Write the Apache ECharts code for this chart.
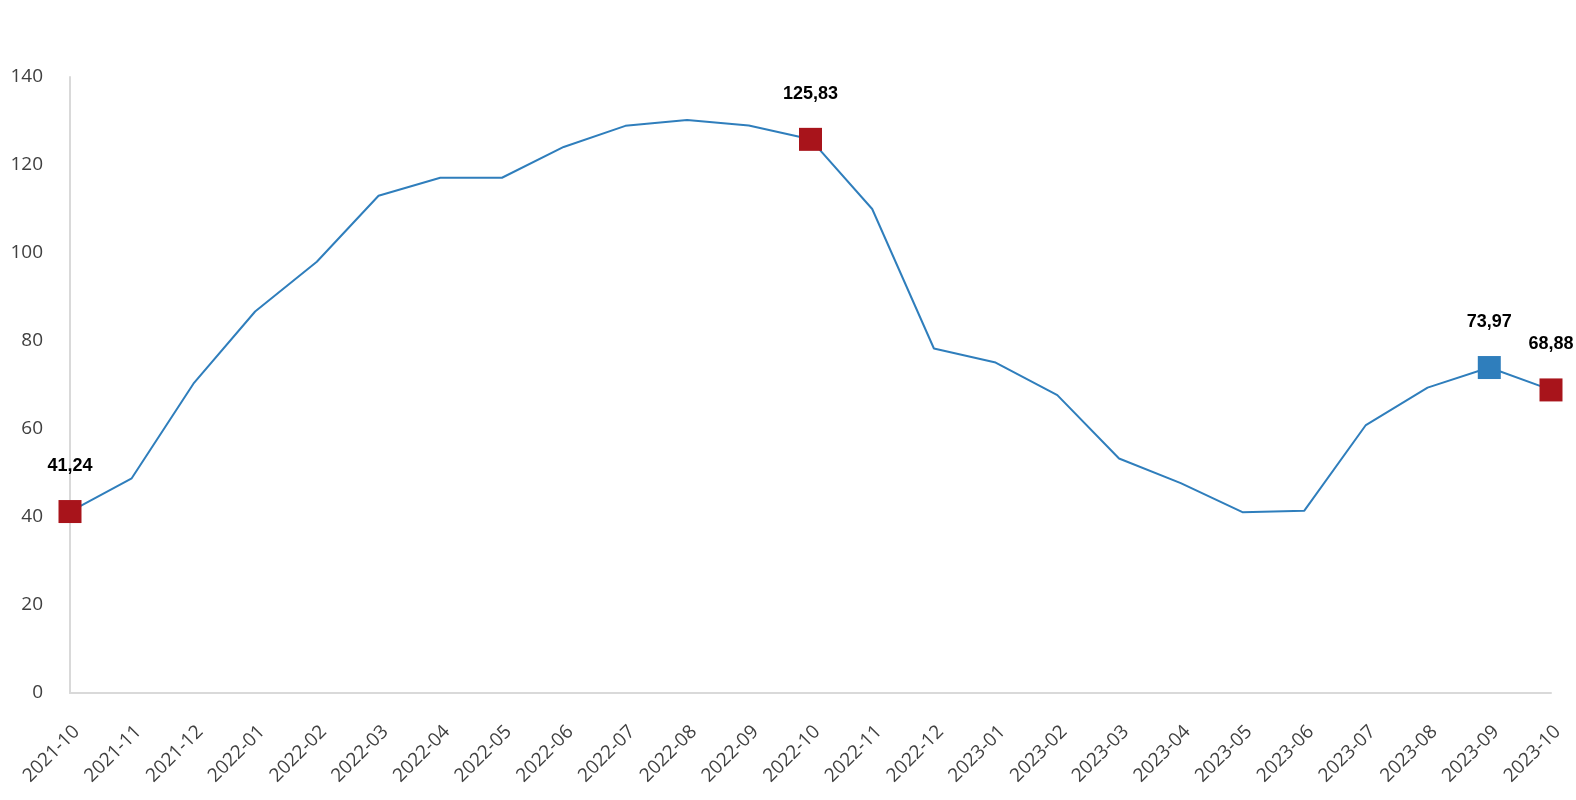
<!DOCTYPE html>
<html>
<head>
<meta charset="utf-8">
<script src="https://cdn.jsdelivr.net/npm/echarts@6/dist/echarts.min.js"></script>
<style>
html,body{margin:0;padding:0;background:#fff;}
#chart{width:1576px;height:800px;}
</style>
</head>
<body>
<div id="chart"></div>
<script>
const categories = ['2021-10','2021-11','2021-12','2022-01','2022-02','2022-03','2022-04','2022-05','2022-06','2022-07','2022-08','2022-09','2022-10','2022-11','2022-12','2023-01','2023-02','2023-03','2023-04','2023-05','2023-06','2023-07','2023-08','2023-09','2023-10'];
const values = [41.24,48.8,70.3,86.7,98.0,113.0,117.1,117.1,124.1,128.9,130.2,129.0,125.83,110.0,78.3,75.1,67.7,53.3,47.7,41.1,41.4,60.9,69.4,73.97,68.88];
const highlightIdx = [0, 12, 23, 24];
const highlightColors = ['#A8141B', '#A8141B', '#2F7EBC', '#A8141B'];
const yTicks = {min: 0, max: 140, interval: 20};

const seriesData = values.map((v, i) => {
  const h = highlightIdx.indexOf(i);
  if (h >= 0) {
    return {
      value: v,
      symbol: 'rect',
      symbolSize: 23,
      itemStyle: {color: highlightColors[h]},
      label: {show: true}
    };
  }
  return {value: v, symbol: 'none'};
});

const chart = echarts.init(document.getElementById('chart'), null, {renderer: 'canvas'});
chart.setOption({
  animation: false,
  backgroundColor: '#ffffff',
  grid: {left: 70, right: 25, top: 77, bottom: 107, containLabel: false},
  xAxis: {
    type: 'category',
    data: categories,
    boundaryGap: false,
    axisLine: {show: true, lineStyle: {color: '#D9D9D9', width: 2}},
    axisTick: {show: false},
    axisLabel: {
      rotate: 45,
      interval: 0,
      margin: 29,
      verticalAlign: 'top',
      color: '#404040',
      fontFamily: 'Open Sans',
      fontSize: 19
    },
    splitLine: {show: false}
  },
  yAxis: {
    type: 'value',
    min: yTicks.min,
    max: yTicks.max,
    interval: yTicks.interval,
    axisLine: {show: true, lineStyle: {color: '#D9D9D9', width: 2}},
    axisTick: {show: false},
    axisLabel: {
      margin: 27,
      color: '#404040',
      fontFamily: 'Open Sans',
      fontSize: 19
    },
    splitLine: {show: false}
  },
  series: [{
    type: 'line',
    data: seriesData,
    lineStyle: {color: '#2F7EBC', width: 2},
    itemStyle: {color: '#2F7EBC'},
    label: {
      show: false,
      position: 'top',
      distance: 25,
      color: '#000000',
      fontFamily: 'Liberation Sans',
      fontWeight: 'bold',
      fontSize: 18,
      formatter: p => p.value.toFixed(2).replace('.', ',')
    },
    z: 2
  }]
});
</script>
</body>
</html>
